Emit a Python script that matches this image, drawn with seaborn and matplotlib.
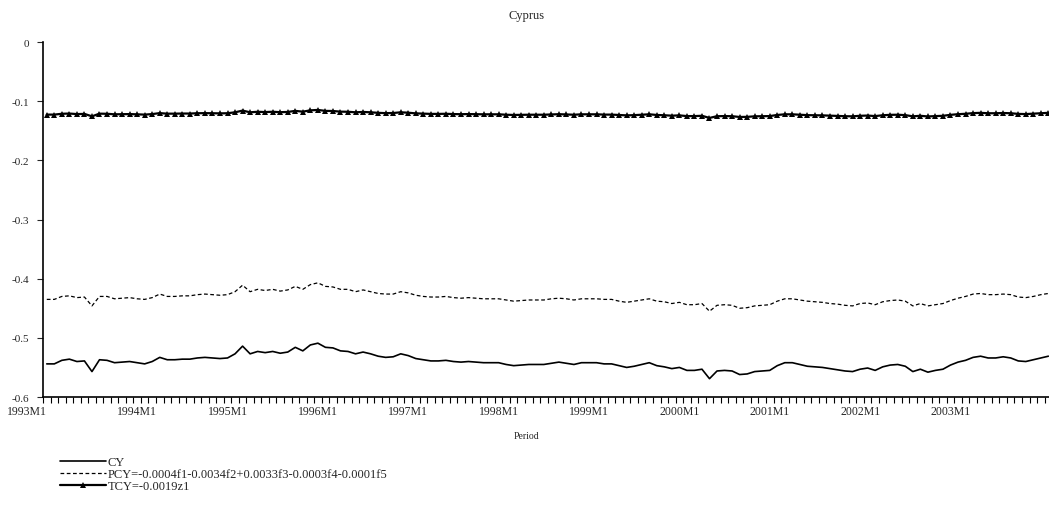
import numpy as np
import pandas as pd
import matplotlib
matplotlib.use("Agg")
import matplotlib.pyplot as plt
import seaborn as sns

# monthly series, 1993M1 onwards
cy = [-0.544, -0.544, -0.538, -0.536, -0.540, -0.539, -0.557, -0.537, -0.538, -0.542,
      -0.541, -0.540, -0.542, -0.544, -0.540, -0.533, -0.537, -0.537, -0.536, -0.536,
      -0.534, -0.533, -0.534, -0.535, -0.534, -0.527, -0.514, -0.527, -0.523, -0.525,
      -0.523, -0.526, -0.524, -0.516, -0.522, -0.512, -0.509, -0.516, -0.517, -0.522,
      -0.523, -0.527, -0.524, -0.527, -0.531, -0.533, -0.532, -0.527, -0.530, -0.535,
      -0.537, -0.539, -0.539, -0.538, -0.540, -0.541, -0.540, -0.541, -0.542, -0.542,
      -0.542, -0.545, -0.547, -0.546, -0.545, -0.545, -0.545, -0.543, -0.541, -0.543,
      -0.545, -0.542, -0.542, -0.542, -0.544, -0.544, -0.547, -0.550, -0.548, -0.545,
      -0.542, -0.547, -0.549, -0.552, -0.550, -0.555, -0.555, -0.553, -0.569, -0.556,
      -0.555, -0.556, -0.562, -0.561, -0.557, -0.556, -0.555, -0.547, -0.542, -0.542,
      -0.545, -0.548, -0.549, -0.550, -0.552, -0.554, -0.556, -0.557, -0.553, -0.551,
      -0.555, -0.549, -0.546, -0.545, -0.548, -0.557, -0.553, -0.558, -0.555, -0.553,
      -0.546, -0.541, -0.538, -0.533, -0.531, -0.534, -0.534, -0.532, -0.534, -0.539,
      -0.540, -0.537, -0.534, -0.531]

pcy = [-0.435, -0.435, -0.430, -0.429, -0.432, -0.431, -0.446, -0.430, -0.430, -0.434,
       -0.433, -0.432, -0.434, -0.435, -0.432, -0.426, -0.430, -0.430, -0.429, -0.429,
       -0.427, -0.426, -0.427, -0.428, -0.427, -0.422, -0.411, -0.422, -0.418, -0.420,
       -0.418, -0.421, -0.419, -0.413, -0.418, -0.410, -0.407, -0.413, -0.414, -0.418,
       -0.418, -0.422, -0.419, -0.422, -0.425, -0.426, -0.426, -0.422, -0.424, -0.428,
       -0.430, -0.431, -0.431, -0.430, -0.432, -0.433, -0.432, -0.433, -0.434, -0.434,
       -0.434, -0.436, -0.438, -0.437, -0.436, -0.436, -0.436, -0.434, -0.433, -0.434,
       -0.436, -0.434, -0.434, -0.434, -0.435, -0.435, -0.438, -0.440, -0.438, -0.436,
       -0.434, -0.438, -0.439, -0.442, -0.440, -0.444, -0.444, -0.442, -0.455, -0.445,
       -0.444, -0.445, -0.450, -0.449, -0.446, -0.445, -0.444, -0.438, -0.434, -0.434,
       -0.436, -0.438, -0.439, -0.440, -0.442, -0.443, -0.445, -0.446, -0.442, -0.441,
       -0.444, -0.439, -0.437, -0.436, -0.438, -0.446, -0.442, -0.446, -0.444, -0.442,
       -0.437, -0.433, -0.430, -0.426, -0.425, -0.427, -0.427, -0.426, -0.427, -0.431,
       -0.432, -0.430, -0.427, -0.425]

tcy = [-0.1227, -0.1227, -0.1213, -0.1209, -0.1218, -0.1215, -0.1256, -0.1211, -0.1213, -0.1222,
       -0.1220, -0.1218, -0.1222, -0.1227, -0.1218, -0.1202, -0.1211, -0.1211, -0.1209, -0.1209,
       -0.1204, -0.1202, -0.1204, -0.1206, -0.1204, -0.1188, -0.1159, -0.1188, -0.1179, -0.1184,
       -0.1179, -0.1186, -0.1182, -0.1164, -0.1177, -0.1155, -0.1148, -0.1164, -0.1166, -0.1177,
       -0.1179, -0.1188, -0.1182, -0.1188, -0.1197, -0.1202, -0.1200, -0.1188, -0.1195, -0.1206,
       -0.1211, -0.1215, -0.1215, -0.1213, -0.1218, -0.1220, -0.1218, -0.1220, -0.1222, -0.1222,
       -0.1222, -0.1229, -0.1233, -0.1231, -0.1229, -0.1229, -0.1229, -0.1224, -0.1220, -0.1224,
       -0.1229, -0.1222, -0.1222, -0.1222, -0.1227, -0.1227, -0.1233, -0.1240, -0.1236, -0.1229,
       -0.1222, -0.1233, -0.1238, -0.1245, -0.1240, -0.1252, -0.1252, -0.1247, -0.1283, -0.1254,
       -0.1252, -0.1254, -0.1267, -0.1265, -0.1256, -0.1254, -0.1252, -0.1233, -0.1222, -0.1222,
       -0.1229, -0.1236, -0.1238, -0.1240, -0.1245, -0.1249, -0.1254, -0.1256, -0.1247, -0.1243,
       -0.1252, -0.1238, -0.1231, -0.1229, -0.1236, -0.1256, -0.1247, -0.1258, -0.1252, -0.1247,
       -0.1231, -0.1220, -0.1213, -0.1202, -0.1197, -0.1204, -0.1204, -0.1200, -0.1204, -0.1215,
       -0.1218, -0.1211, -0.1204, -0.1197]

year_labels = ["1993M1", "1994M1", "1995M1", "1996M1", "1997M1", "1998M1",
               "1999M1", "2000M1", "2001M1", "2002M1", "2003M1"]
y_ticks = [0, -0.1, -0.2, -0.3, -0.4, -0.5, -0.6]
legend_labels = ["CY",
                 "PCY=-0.0004f1-0.0034f2+0.0033f3-0.0003f4-0.0001f5",
                 "TCY=-0.0019z1"]

sns.set_style("white")
plt.rcParams["font.family"] = ["Liberation Serif", "DejaVu Serif"]

month = np.arange(len(cy))
df = pd.DataFrame({"month": month, "CY": cy, "PCY": pcy, "TCY": tcy})

fig = plt.figure(figsize=(10.49, 5.06), dpi=100)
ax = fig.add_axes([0.041, 0.2134, 0.962, 0.7016])

sns.lineplot(data=df, x="month", y="CY", ax=ax, color="black", lw=1.2,
             label=legend_labels[0])
sns.lineplot(data=df, x="month", y="PCY", ax=ax, color="black", lw=0.9,
             linestyle=(0, (3, 2)), label=legend_labels[1])
sns.lineplot(data=df, x="month", y="TCY", ax=ax, color="black", lw=1.6,
             marker="^", markersize=5, markeredgewidth=0, label=legend_labels[2])

ax.set_xlim(-0.5, len(cy) - 0.5)
ax.set_ylim(-0.6, 0)

# month boundaries as small ticks, year labels centred on January
ax.set_xticks(np.arange(len(cy)) - 0.5, minor=True)
ax.set_xticks(np.arange(len(year_labels)) * 12)
ax.set_xticklabels(year_labels, fontsize=8.5)
ax.tick_params(axis="x", which="major", length=0, pad=6)
ax.tick_params(axis="x", which="minor", direction="out", length=4, width=0.8,
               bottom=True, color="black")
ax.get_xticklabels()[0].set_ha("right")

ax.set_yticks(y_ticks)
ax.set_yticklabels(["0" if v == 0 else f"{v:.1f}" for v in y_ticks], fontsize=8)
ax.tick_params(axis="y", direction="out", length=4, width=0.8, left=True, pad=6)

ax.set_xlabel("")
ax.set_ylabel("")
for side in ["top", "right"]:
    ax.spines[side].set_visible(False)
for side in ["left", "bottom"]:
    ax.spines[side].set_color("black")
    ax.spines[side].set_linewidth(1.2)

fig.text(0.502, 0.968, "Cyprus", ha="center", va="center", fontsize=9)
fig.text(0.502, 0.138, "Period", ha="center", va="center", fontsize=7)

ax.legend(loc="upper left", bbox_to_anchor=(0.057, 0.097),
          bbox_transform=fig.transFigure, frameon=False, fontsize=9,
          handlelength=3.7, handletextpad=0.15, labelspacing=0.0,
          borderpad=0, borderaxespad=0)

fig.savefig("out.png", dpi=100)
